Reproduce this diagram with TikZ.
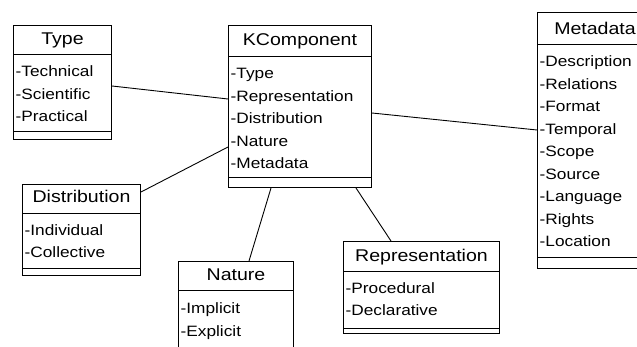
\documentclass[tikz,border=0pt]{standalone}
\usepackage{fontspec}
\setmainfont{Liberation Sans}
\newfontfamily\titlefont[FakeStretch=1.15]{Liberation Sans}
\newfontfamily\attrfont[FakeStretch=1.15]{Liberation Sans}
\usetikzlibrary{calc}

% class box: name, x, y, width, height, title rule offset, bottom rule offset
\newcommand\umlbox[7]{%
  \node[classbox, minimum width=#4pt, minimum height=#5pt] (#1) at (#2,#3) {};
  \draw[boxline] ($(#1.north west)+(0,#6)$) -- ($(#1.north east)+(0,#6)$);
  \draw[boxline] ($(#1.north west)+(0,#7)$) -- ($(#1.north east)+(0,#7)$);
}
% class title: box name, baseline offset, text
\newcommand\umltitle[3]{%
  \node[titletext] (#1-title) at ($(#1.north)+(0,#2)$) {#3};
}
% attribute line: box name, key, baseline offset, text
\newcommand\umlattr[4]{%
  \node[attrtext] (#1-#2) at ($(#1.north west)+(2.5,#3)$) {#4};
}

\begin{document}
\begin{tikzpicture}[x=1pt,y=-1pt,
  classbox/.style={draw, line width=1pt, inner sep=0pt, anchor=north west, fill=white},
  boxline/.style={line width=1pt},
  link/.style={line width=0.9pt},
  titletext/.style={anchor=base, inner sep=0pt, font=\titlefont\fontsize{17}{20}\selectfont},
  attrtext/.style={anchor=base west, inner sep=0pt, font=\attrfont\fontsize{15}{18}\selectfont}]

\useasboundingbox (0,0) rectangle (637,347);
\clip (0,0) rectangle (637,347);
\fill[white] (0,0) rectangle (637,347);

% boxes
\umlbox{type}{13}{25}{98}{114}{30}{107}
\umlbox{kcomp}{228}{25}{143}{162}{32}{153}
\umlbox{meta}{537}{12}{115}{256}{33}{246}
\umlbox{dist}{22}{184}{118}{91}{30}{85}
\umlbox{nature}{178}{261}{115}{96}{30}{89}
\umlbox{repr}{343}{241}{156}{92}{31}{87}

% titles
\umltitle{type}{20}{Type}
\umltitle{kcomp}{21}{KComponent}
\umltitle{meta}{23}{Metadata}
\umltitle{dist}{19}{Distribution}
\umltitle{nature}{20}{Nature}
\umltitle{repr}{21}{Representation}

% attributes
\umlattr{type}{a}{52}{-Technical}
\umlattr{type}{b}{74.5}{-Scientific}
\umlattr{type}{c}{97}{-Practical}

\umlattr{kcomp}{a}{54}{-Type}
\umlattr{kcomp}{b}{76.5}{-Representation}
\umlattr{kcomp}{c}{99}{-Distribution}
\umlattr{kcomp}{d}{121.5}{-Nature}
\umlattr{kcomp}{e}{144}{-Metadata}

\umlattr{meta}{a}{55}{-Description}
\umlattr{meta}{b}{77.5}{-Relations}
\umlattr{meta}{c}{100}{-Format}
\umlattr{meta}{d}{122.5}{-Temporal}
\umlattr{meta}{e}{145}{-Scope}
\umlattr{meta}{f}{167.5}{-Source}
\umlattr{meta}{g}{190}{-Language}
\umlattr{meta}{h}{212.5}{-Rights}
\umlattr{meta}{i}{235}{-Location}

\umlattr{dist}{a}{52}{-Individual}
\umlattr{dist}{b}{74}{-Collective}

\umlattr{nature}{a}{52}{-Implicit}
\umlattr{nature}{b}{75}{-Explicit}

\umlattr{repr}{a}{53}{-Procedural}
\umlattr{repr}{b}{75}{-Declarative}

% associations
\draw[link] ($(type.north east)+(0,61)$) -- ($(kcomp.north west)+(0,74)$);
\draw[link] ($(kcomp.north east)+(0,88)$) -- ($(meta.north west)+(0,118)$);
\draw[link] ($(dist.north east)+(0,8)$) -- ($(kcomp.north west)+(0,122)$);
\draw[link] ($(nature.north west)+(71,0)$) -- ($(kcomp.south west)+(43,0)$);
\draw[link] ($(repr.north west)+(48,0)$) -- ($(kcomp.south west)+(128,0)$);
\end{tikzpicture}
\end{document}
